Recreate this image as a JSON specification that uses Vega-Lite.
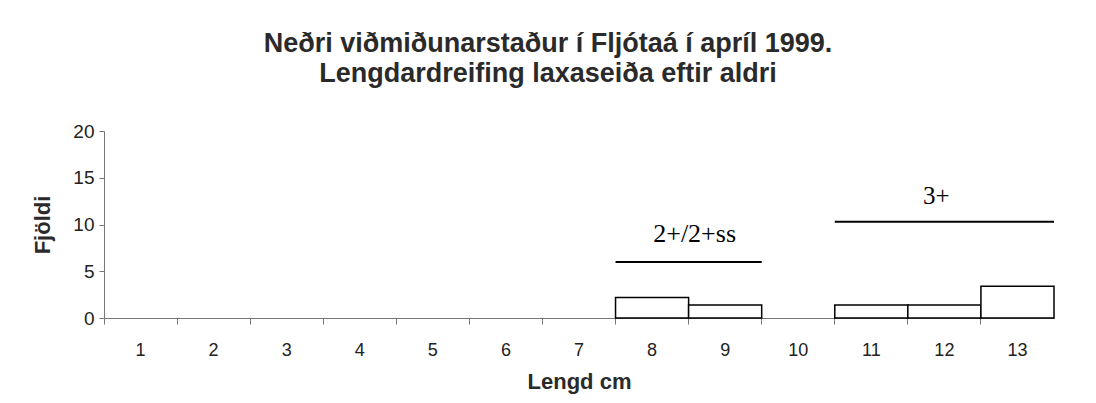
{
  "$schema": "https://vega.github.io/schema/vega-lite/v6.json",
  "width": 950,
  "height": 187,
  "autosize": "none",
  "padding": {"left": 104, "top": 131, "right": 42, "bottom": 85},
  "background": "white",
  "title": {
    "text": ["Neðri viðmiðunarstaður í Fljótaá í apríl 1999.", "Lengdardreifing laxaseiða eftir aldri"],
    "font": "Liberation Sans",
    "fontSize": 27,
    "fontWeight": "bold",
    "color": "#2a2a2a",
    "lineHeight": 30,
    "anchor": "middle",
    "dx": -31,
    "offset": 34
  },
  "datasets": {
    "bars": [
      {"lengd": 1, "fjoldi": 0},
      {"lengd": 2, "fjoldi": 0},
      {"lengd": 3, "fjoldi": 0},
      {"lengd": 4, "fjoldi": 0},
      {"lengd": 5, "fjoldi": 0},
      {"lengd": 6, "fjoldi": 0},
      {"lengd": 7, "fjoldi": 0},
      {"lengd": 8, "fjoldi": 2.2},
      {"lengd": 9, "fjoldi": 1.4},
      {"lengd": 10, "fjoldi": 0},
      {"lengd": 11, "fjoldi": 1.4},
      {"lengd": 12, "fjoldi": 1.4},
      {"lengd": 13, "fjoldi": 3.4}
    ],
    "aldur": [
      {"hopur": "2+/2+ss", "fra": 8, "til": 9, "y": 6.0, "midja": 8, "texty": 9.0},
      {"hopur": "3+", "fra": 11, "til": 13, "y": 10.3, "midja": 12, "texty": 13.1}
    ]
  },
  "layer": [
    {
      "data": {"name": "bars"},
      "transform": [{"filter": "datum.fjoldi > 0"}],
      "mark": {"type": "bar", "fill": "white", "stroke": "black", "strokeWidth": 1.5},
      "encoding": {
        "x": {
          "field": "lengd",
          "type": "ordinal",
          "scale": {"domain": [1,2,3,4,5,6,7,8,9,10,11,12,13], "paddingInner": 0, "paddingOuter": 0},
          "axis": {
            "title": "Lengd cm",
            "labelAngle": 0,
            "bandPosition": 0,
            "labelFont": "Liberation Sans",
            "labelFontSize": 18,
            "labelColor": "#222222",
            "labelPadding": 17,
            "tickSize": 6,
            "tickColor": "#777777",
            "domainColor": "#777777",
            "titleFont": "Liberation Sans",
            "titleFontSize": 22,
            "titleFontWeight": "bold",
            "titleColor": "#2a2a2a",
            "titlePadding": 12
          }
        },
        "y": {
          "field": "fjoldi",
          "type": "quantitative",
          "scale": {"domain": [0, 20]},
          "axis": {
            "title": "Fjöldi",
            "values": [0, 5, 10, 15, 20],
            "grid": false,
            "labelFont": "Liberation Sans",
            "labelFontSize": 19,
            "labelColor": "#222222",
            "labelPadding": 5,
            "tickSize": 5,
            "tickColor": "#777777",
            "domainColor": "#777777",
            "titleFont": "Liberation Sans",
            "titleFontSize": 22,
            "titleFontWeight": "bold",
            "titleColor": "#2a2a2a",
            "titlePadding": 18
          }
        }
      }
    },
    {
      "data": {"name": "aldur"},
      "mark": {"type": "rule", "stroke": "black", "strokeWidth": 2},
      "encoding": {
        "x": {"field": "fra", "type": "ordinal", "bandPosition": 0},
        "x2": {"field": "til", "bandPosition": 1},
        "y": {"field": "y", "type": "quantitative"}
      }
    },
    {
      "data": {"name": "aldur"},
      "transform": [{"filter": "datum.hopur == '2+/2+ss'"}],
      "mark": {"type": "text", "font": "Liberation Serif", "fontSize": 26, "color": "black", "baseline": "middle", "dx": 6},
      "encoding": {
        "x": {"field": "midja", "type": "ordinal", "bandPosition": 1},
        "y": {"field": "texty", "type": "quantitative"},
        "text": {"field": "hopur"}
      }
    },
    {
      "data": {"name": "aldur"},
      "transform": [{"filter": "datum.hopur == '3+'"}],
      "mark": {"type": "text", "font": "Liberation Serif", "fontSize": 25, "color": "black", "baseline": "middle", "dx": -8},
      "encoding": {
        "x": {"field": "midja", "type": "ordinal", "bandPosition": 0.5},
        "y": {"field": "texty", "type": "quantitative"},
        "text": {"field": "hopur"}
      }
    }
  ],
  "config": {"view": {"stroke": null}}
}
